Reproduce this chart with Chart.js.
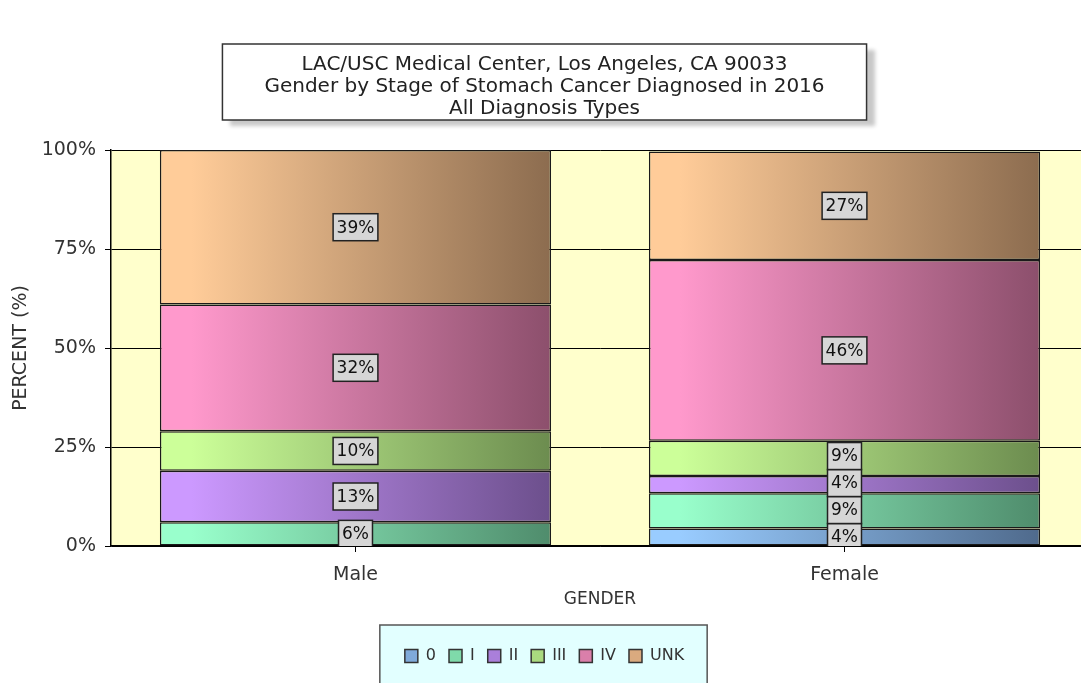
<!DOCTYPE html>
<html>
<head>
<meta charset="utf-8">
<script src="https://cdn.jsdelivr.net/npm/chart.js@4.4.1/dist/chart.umd.min.js"></script>
<style>
  html, body { margin: 0; padding: 0; background: #fff; overflow: hidden; }
  #wrap { width: 1089px; height: 683px; }
</style>
</head>
<body>
<div id="wrap"><canvas id="myChart" width="1089" height="683"></canvas></div>
<script>
// data (percent of patients)
const categories = ['Male', 'Female'];
const stages = ['0', 'I', 'II', 'III', 'IV', 'UNK'];
const stage0 = [0, 4.4];
const stageI = [6, 8.9];
const stageII = [13, 4.4];
const stageIII = [10, 8.9];
const stageIV = [32, 45.6];
const stageUNK = [39, 27.4];
const seriesValues = [stage0, stageI, stageII, stageIII, stageIV, stageUNK];
const yTicks = [0, 25, 50, 75, 100];
const titleLines = [
    'LAC/USC Medical Center, Los Angeles, CA 90033',
    'Gender by Stage of Stomach Cancer Diagnosed in 2016',
    'All Diagnosis Types'
];

// colours
const lightColors = ['#99CCFF', '#99FFCC', '#CC99FF', '#CCFF99', '#FF99CC', '#FFCC99'];
const darkColors  = ['#4F6A8C', '#4F8C6C', '#6C4F8C', '#6C8C4F', '#8C4F6C', '#8C6C4F'];
const legendColors = ['#7FAADA', '#7FDAAA', '#AA7FDA', '#AADA7F', '#DA7FAA', '#DAAA7F'];
const FONT = 'DejaVu Sans';
const LABEL_H = 27;

function barGradient(i) {
    return function(context) {
        const chart = context.chart;
        if (!chart.chartArea || context.dataIndex === undefined) return lightColors[i];
        const x = chart.scales.x;
        const cx = x.getPixelForValue(context.dataIndex);
        const half = (x.width / categories.length) * 0.8 / 2;
        const g = chart.ctx.createLinearGradient(cx - half, 0, cx + half, 0);
        g.addColorStop(0, lightColors[i]);
        g.addColorStop(0.08, lightColors[i]);
        g.addColorStop(1, darkColors[i]);
        return g;
    };
}

// background, title box, legend box
const boxesPlugin = {
    id: 'boxes',
    beforeDraw(chart) {
        const ctx = chart.ctx;
        const a = chart.chartArea;
        ctx.save();
        ctx.fillStyle = '#ffffff';
        ctx.fillRect(0, 0, chart.width, chart.height);
        ctx.fillStyle = '#FFFFCC';
        ctx.fillRect(a.left, a.top, a.right - a.left, a.bottom - a.top);

        // title box
        const t = chart.titleBlock;
        const to = chart.options.plugins.title;
        ctx.font = to.font.size + 'px "' + FONT + '"';
        let tw = 0;
        titleLines.forEach(l => { tw = Math.max(tw, ctx.measureText(l).width); });
        const cx = (t.left + t.right) / 2;
        const bx = cx - tw / 2 - 42, bw = tw + 84;
        const by = t.top + to.padding.top - 10;
        const bh = titleLines.length * to.font.lineHeight * to.font.size + 10;
        ctx.save();
        ctx.shadowColor = 'rgba(0,0,0,0.22)';
        ctx.shadowOffsetX = 8;
        ctx.shadowOffsetY = 6;
        ctx.shadowBlur = 4;
        ctx.fillStyle = '#ffffff';
        ctx.fillRect(bx, by, bw, bh);
        ctx.restore();
        ctx.strokeStyle = '#333';
        ctx.lineWidth = 1.5;
        ctx.strokeRect(bx, by, bw, bh);

        // legend box
        const hb = chart.legend.legendHitBoxes;
        if (hb && hb.length) {
            let l = Infinity, r = -Infinity, top = hb[0].top;
            hb.forEach(h => { l = Math.min(l, h.left); r = Math.max(r, h.left + h.width); });
            ctx.fillStyle = '#E2FFFF';
            ctx.fillRect(l - 25, top - 23, r - l + 48, chart.height);
            ctx.strokeStyle = '#555';
            ctx.strokeRect(l - 25, top - 23, r - l + 48, chart.height);
        }
        ctx.restore();
    }
};

// percent labels in the segments
const segLabels = {
    id: 'segLabels',
    afterDatasetsDraw(chart) {
        const ctx = chart.ctx;
        const a = chart.chartArea;
        ctx.save();
        ctx.beginPath();
        ctx.rect(a.left, a.top, a.right - a.left, a.bottom - a.top);
        ctx.clip();
        ctx.font = '17px "' + FONT + '"';
        ctx.textAlign = 'center';
        ctx.textBaseline = 'middle';
        categories.forEach((c, j) => {
            let prev = null;
            chart.data.datasets.forEach((ds, i) => {
                const v = ds.data[j];
                if (!v) return;
                const el = chart.getDatasetMeta(i).data[j];
                let y = (el.y + el.base) / 2;
                if (prev !== null && y > prev - LABEL_H) y = prev - LABEL_H;
                prev = y;
                const text = Math.round(v) + '%';
                const w = ctx.measureText(text).width + 7;
                ctx.fillStyle = '#D6D6D6';
                ctx.fillRect(el.x - w / 2, y - LABEL_H / 2, w, LABEL_H);
                ctx.strokeStyle = '#222';
                ctx.lineWidth = 1.5;
                ctx.strokeRect(el.x - w / 2, y - LABEL_H / 2, w, LABEL_H);
                ctx.fillStyle = '#111';
                ctx.fillText(text, el.x, y + 1);
            });
        });
        ctx.restore();
    }
};

Chart.defaults.font.family = FONT;
Chart.defaults.color = '#333';

const ctx = document.getElementById('myChart').getContext('2d');
const myChart = new Chart(ctx, {
    type: 'bar',
    data: {
        labels: categories,
        datasets: stages.map((s, i) => ({
            label: s,
            data: seriesValues[i],
            backgroundColor: barGradient(i),
            borderColor: '#1a1a1a',
            borderWidth: 1.5,
            borderSkipped: false,
            categoryPercentage: 0.8,
            barPercentage: 1
        }))
    },
    options: {
        responsive: false,
        devicePixelRatio: 1,
        animation: false,
        events: [],
        layout: { padding: { left: 0, right: 0, top: 0, bottom: 9 } },
        scales: {
            x: {
                stacked: true,
                grid: { offset: false, drawOnChartArea: false, drawTicks: true, tickLength: 6, color: '#000' },
                border: { color: '#000', width: 1.5 },
                ticks: { font: { size: 19 }, color: '#333', padding: 12 },
                title: { display: true, text: 'GENDER', font: { size: 17 }, color: '#333', padding: { top: 4, bottom: 25 } },
                afterFit: (scale) => { scale.height = 89; }
            },
            y: {
                stacked: true,
                min: 0,
                max: 100,
                afterBuildTicks: (scale) => { scale.ticks = yTicks.map(v => ({ value: v })); },
                ticks: { callback: v => v + '%', font: { size: 19 }, color: '#333', padding: 9 },
                grid: { color: '#000', lineWidth: 1, tickLength: 6 },
                border: { color: '#000', width: 1.5 },
                title: { display: true, text: 'PERCENT (%)', font: { size: 19 }, color: '#333', padding: { top: 10, bottom: 0 } },
                afterFit: (scale) => { scale.width = 111; }
            }
        },
        plugins: {
            title: {
                display: true,
                text: titleLines,
                color: '#222',
                font: { size: 20, weight: 'normal', lineHeight: 1.1 },
                padding: { top: 54, bottom: 30 }
            },
            legend: {
                position: 'bottom',
                labels: {
                    boxWidth: 13,
                    boxHeight: 13,
                    padding: 13,
                    color: '#333',
                    font: { size: 16 },
                    generateLabels: () => stages.map((s, i) => ({
                        text: s,
                        fillStyle: legendColors[i],
                        strokeStyle: '#333',
                        lineWidth: 1.5,
                        hidden: false,
                        datasetIndex: i,
                        fontColor: '#333'
                    }))
                }
            },
            tooltip: { enabled: false }
        }
    },
    plugins: [boxesPlugin, segLabels]
});
</script>
</body>
</html>
